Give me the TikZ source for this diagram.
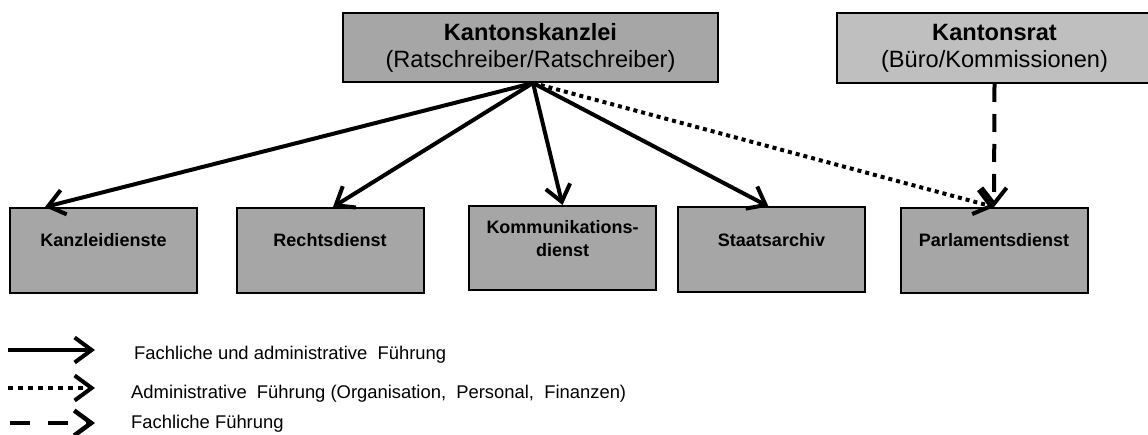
\documentclass[tikz,border=0pt]{standalone}
\usepackage{fontspec}
\setmainfont{Liberation Sans}
\usetikzlibrary{arrows.meta}
\definecolor{boxgray}{HTML}{A6A6A6}
\definecolor{ratgray}{HTML}{BFBFBF}
\begin{document}
\begin{tikzpicture}[x=1pt,y=-1pt,
  topbox/.style={draw=black, line width=2pt, inner sep=0pt, align=center,
    font=\fontsize{23.6}{27}\selectfont},
  box/.style={draw=black, line width=2pt, fill=boxgray, minimum width=187pt,
    minimum height=85pt, inner sep=0pt},
  lbl/.style={font=\bfseries\fontsize{18}{23}\selectfont, align=center, inner sep=0pt},
  conn/.style={line width=4pt, -{Straight Barb[length=16pt,width=25pt]}},
  dotconn/.style={conn, dash pattern=on 4pt off 4pt},
  dashconn/.style={conn, dash pattern=on 18pt off 12pt},
  legarrow/.style={line width=4pt, -{Straight Barb[length=17pt,width=25pt]}},
  legtxt/.style={anchor=west, inner sep=0pt, font=\fontsize{18.4}{22}\selectfont}
]
\useasboundingbox (0,0) rectangle (1148,435);

% top boxes
\node[topbox, fill=boxgray, minimum width=375pt, minimum height=69pt] (kk) at (530.5,47.5)
  {\textbf{Kantonskanzlei}\\(Ratschreiber/Ratschreiber)};
\node[topbox, fill=ratgray, minimum width=315pt, minimum height=70pt] (kr) at (994.5,48)
  {\textbf{Kantonsrat}\\(Büro/Kommissionen)};
\coordinate (hub) at ([xshift=2.5pt]kk.south);

% bottom boxes
\node[box, label={[lbl, yshift=10pt]center:Kanzleidienste}] (kd) at (103.5,250.5) {};
\node[box, label={[lbl, yshift=10pt]center:Rechtsdienst}] (rd) at (330,250.5) {};
\node[box, minimum height=84pt, label={[lbl, yshift=9pt]center:Kommunikations-\\dienst}] (km) at (562.5,248) {};
\node[box, label={[lbl, yshift=10pt]center:Staatsarchiv}] (sa) at (771.5,250) {};
\node[box, label={[lbl, yshift=10pt]center:Parlamentsdienst}] (pd) at (994,250.5) {};

% connectors
\draw[conn] (hub) -- ([xshift=36pt]kd.north west);
\draw[conn] (hub) -- ([xshift=3pt]rd.north);
\draw[conn] (hub) -- (km.north);
\draw[conn] (hub) -- ([xshift=-3pt]sa.north);
\draw[dotconn] (hub) -- (pd.north);
\draw[dashconn] (kr.south) -- (pd.north);

% legend
\coordinate (ls1) at (8,350);  \coordinate (le1) at (95,350);
\coordinate (ls2) at (8,388);  \coordinate (le2) at (95,388);
\coordinate (ls3) at (10,423); \coordinate (le3) at (95,423);
\draw[legarrow] (ls1) -- (le1);
\draw[legarrow, dash pattern=on 5pt off 5pt] (ls2) -- (le2);
\draw[legarrow, line width=4.5pt, dash pattern=on 20pt off 18pt] (ls3) -- (le3);
\node[legtxt] (lt1) at (134,355) {Fachliche und administrative\ \ Führung};
\node[legtxt] (lt2) at (131,393.5) {Administrative\ \ Führung (Organisation,\ \ Personal,\ \ Finanzen)};
\node[legtxt] (lt3) at (131,423.5) {Fachliche Führung};
\end{tikzpicture}
\end{document}
